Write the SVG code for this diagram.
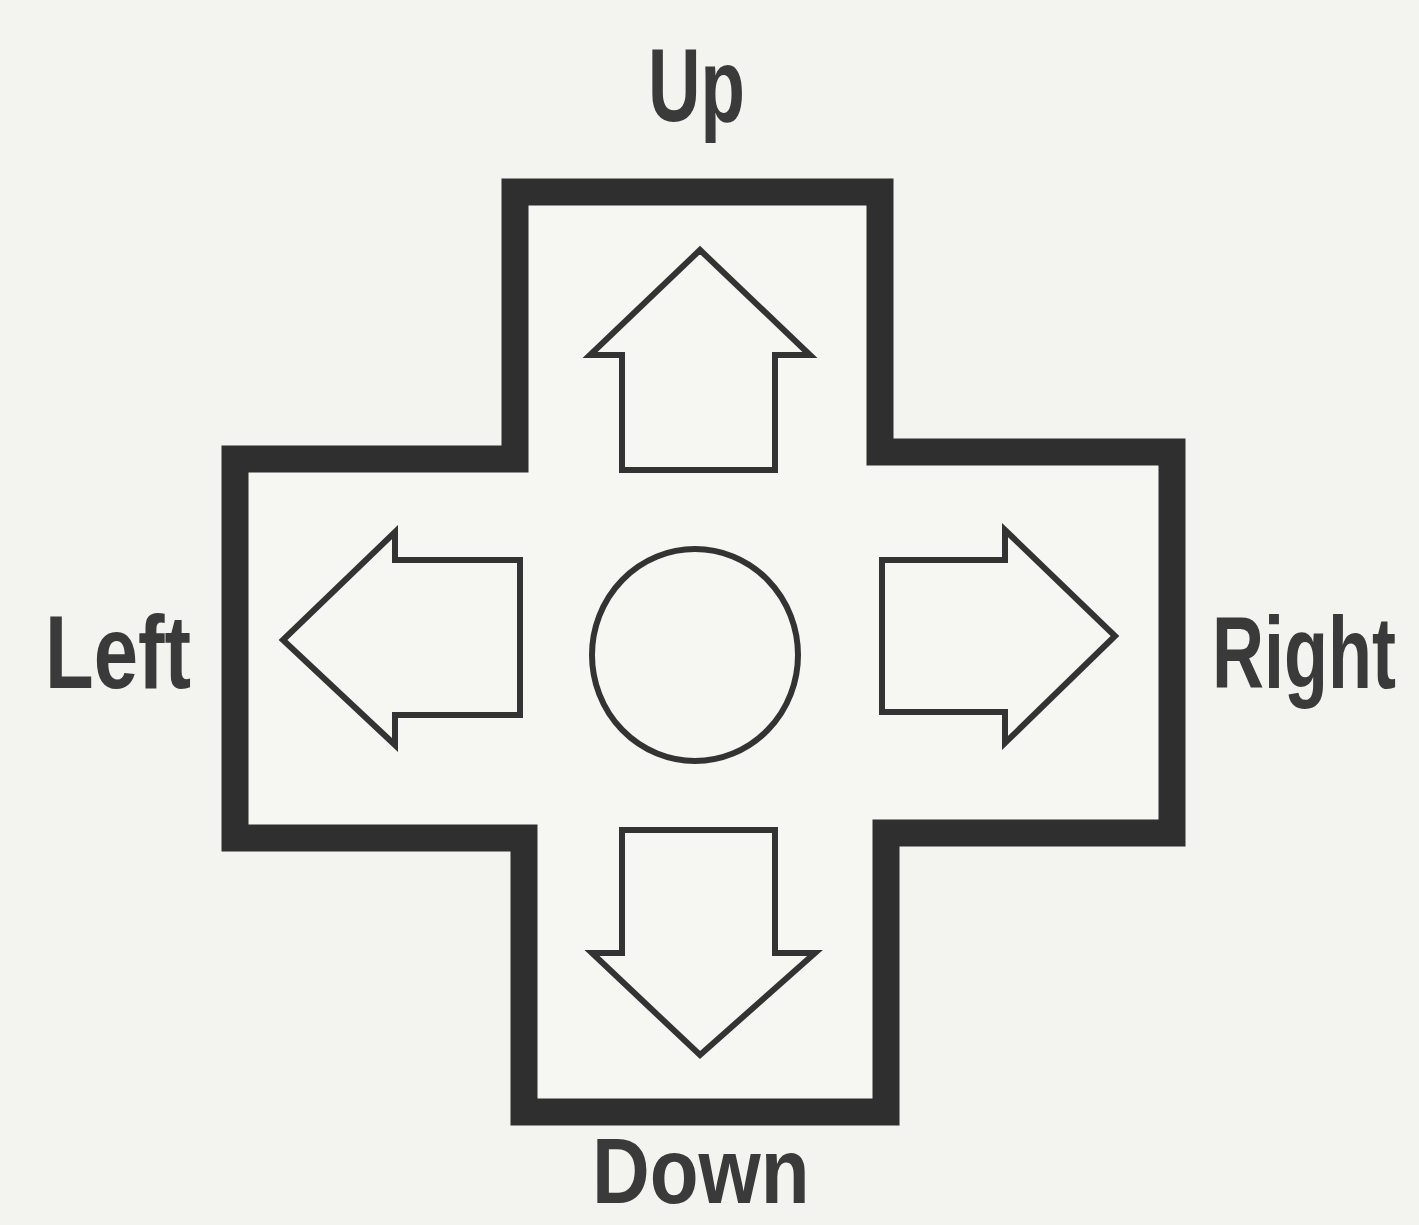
<svg xmlns="http://www.w3.org/2000/svg" width="1419" height="1225" viewBox="0 0 1419 1225">
<style>
.lbl{font-family:"Liberation Sans",Arial,sans-serif;font-weight:bold;fill:#3a3a3a}
.arr{fill:none;stroke:#333;stroke-width:6;stroke-linejoin:miter}
.pad{fill:#f6f6f3;stroke:#2f2f2f;stroke-width:27;stroke-linejoin:miter}
</style>
<rect width="1419" height="1225" fill="#f3f3ef"/>
<g id="dpad">
<path class="pad" d="M515,192 L880,192 L880,452 L1172,452 L1172,833 L886,833 L886,1112 L524,1112 L524,838 L235,838 L235,459 L515,459 Z"/>
</g>
<g id="connectors">
<polygon id="arrow-up" class="arr" points="700,250 810,355 775,355 775,470 622,470 622,355 590,355"/>
<polygon id="arrow-down" class="arr" points="622,830 775,830 775,953 815,953 700,1055 592,953 622,953"/>
<polygon id="arrow-left" class="arr" points="283,640 395,532 395,560 520,560 520,715 395,715 395,745"/>
<polygon id="arrow-right" class="arr" points="882,560 1005,560 1005,530 1115,636 1005,743 1005,712 882,712"/>
</g>
<g id="center">
<ellipse class="arr" cx="695" cy="655" rx="103" ry="106"/>
</g>
<g id="label-up"><text class="lbl" x="648" y="121" font-size="104" textLength="97" lengthAdjust="spacingAndGlyphs">Up</text></g>
<g id="label-left"><text class="lbl" x="45" y="688" font-size="104" textLength="146" lengthAdjust="spacingAndGlyphs">Left</text></g>
<g id="label-right"><text class="lbl" x="0" y="0" font-size="72" transform="translate(1212,688) scale(1,1.42)">Right</text></g>
<g id="label-down"><text class="lbl" x="0" y="0" font-size="80" transform="translate(592,1203) scale(1,1.15)">Down</text></g>
</svg>
